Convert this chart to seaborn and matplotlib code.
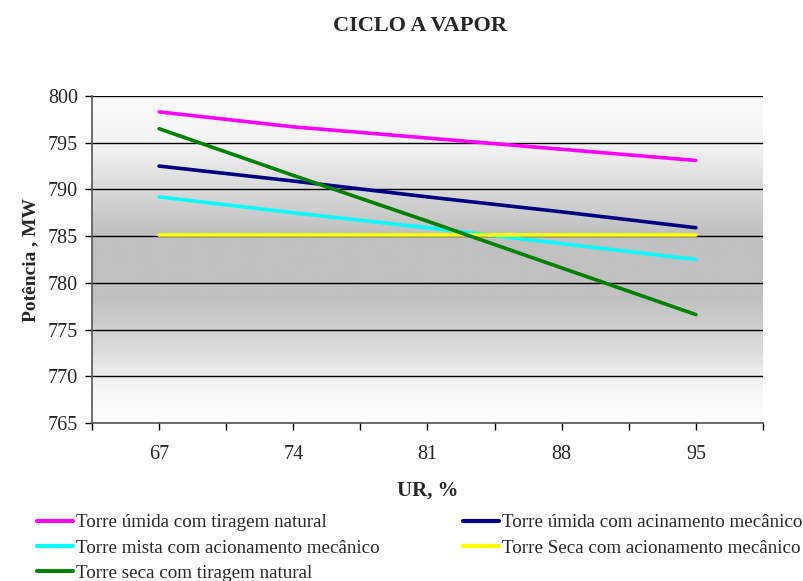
import numpy as np
import pandas as pd
import matplotlib
matplotlib.use("Agg")
import matplotlib.pyplot as plt
import seaborn as sns
from matplotlib.colors import LinearSegmentedColormap
from matplotlib.lines import Line2D

# Relative humidity categories (%)
ur = [67, 74, 81, 88, 95]

# Net power output (MW) for each cooling tower arrangement
umida_tiragem = [798.3, 796.7, 795.5, 794.3, 793.1]
umida_mecanico = [792.5, 790.9, 789.2, 787.6, 785.9]
mista_mecanico = [789.2, 787.5, 785.9, 784.2, 782.5]
seca_mecanico = [785.1, 785.1, 785.1, 785.1, 785.1]
seca_tiragem = [796.5, 791.5, 786.6, 781.6, 776.6]

series_names = [
    "Torre úmida com tiragem natural",
    "Torre úmida com acinamento mecânico",
    "Torre mista com acionamento mecânico",
    "Torre Seca com acionamento mecânico",
    "Torre seca com tiragem natural",
]
series_values = [umida_tiragem, umida_mecanico, mista_mecanico, seca_mecanico, seca_tiragem]
series_colors = ["#ff00ff", "#000080", "#00ffff", "#ffff00", "#008000"]

y_ticks = [765, 770, 775, 780, 785, 790, 795, 800]

df = pd.DataFrame(
    [(name, x, v) for name, vals in zip(series_names, series_values) for x, v in zip(ur, vals)],
    columns=["serie", "UR", "Potencia"],
)

sns.set_theme(style="white")
plt.rcParams["font.family"] = ["Liberation Serif", "DejaVu Serif"]

fig = plt.figure(figsize=(8.04, 5.81), dpi=100)
ax = fig.add_axes([92 / 804, 1 - 423 / 581, (763 - 92) / 804, (423 - 96) / 581])

step = ur[1] - ur[0]
xmin, xmax = ur[0] - step / 2, ur[-1] + step / 2
ymin, ymax = y_ticks[0], y_ticks[-1]

# Vertical white-grey-white background fill of the plot area
grad_cmap = LinearSegmentedColormap.from_list(
    "fill",
    [(0.0, "#fcfcfc"), (0.14, "#f4f4f4"), (0.30, "#d6d6d6"), (0.42, "#c0c0c0"),
     (0.62, "#c0c0c0"), (0.78, "#dcdcdc"), (0.90, "#f7f7f7"), (1.0, "#fdfdfd")],
)
grad = np.linspace(0, 1, 400).reshape(-1, 1)
ax.imshow(grad, cmap=grad_cmap, aspect="auto", extent=[xmin, xmax, ymin, ymax],
          origin="upper", zorder=0, interpolation="bilinear")

for yv in y_ticks:
    ax.axhline(yv, color="black", lw=1.0, zorder=1)

sns.lineplot(data=df, x="UR", y="Potencia", hue="serie", hue_order=series_names,
             palette=series_colors, linewidth=2.6, ax=ax, legend=False, zorder=3)
for ln in ax.get_lines():
    ln.set_solid_capstyle("round")

ax.set_xlim(xmin, xmax)
ax.set_ylim(ymin, ymax)
ax.set_xticks(ur)
ax.set_xticklabels([str(v) for v in ur])
ax.set_xticks([xmin + i * step for i in range(len(ur) + 1)], minor=True)
ax.set_yticks(y_ticks)
ax.tick_params(axis="both", which="both", direction="out", length=5, width=1,
               color="black", labelsize=14.5, bottom=True, left=True)
ax.tick_params(axis="x", pad=11)
ax.tick_params(axis="y", pad=5)

for side in ["top", "right"]:
    ax.spines[side].set_visible(False)
for side in ["left", "bottom"]:
    ax.spines[side].set_color("#555555")
    ax.spines[side].set_linewidth(1.2)

ax.set_xlabel("UR, %", fontsize=15, fontweight="bold", labelpad=12)
ax.set_ylabel("Potência , MW", fontsize=14, fontweight="bold", labelpad=6)
fig.suptitle("CICLO A VAPOR", x=420 / 804, y=1 - 26 / 581, va="center",
             fontsize=16, fontweight="bold")

handles = [Line2D([0], [0], color=c, lw=3) for c in series_colors]
left_idx = [0, 2, 4]
right_idx = [1, 3]
common = dict(frameon=False, fontsize=13.7, handlelength=1.9, handletextpad=0.15,
              labelspacing=0.42, borderaxespad=0, borderpad=0, loc="upper left")
leg1 = fig.legend([handles[i] for i in left_idx], [series_names[i] for i in left_idx],
                  bbox_to_anchor=(37 / 804, 1 - 514 / 581), **common)
leg2 = fig.legend([handles[i] for i in right_idx], [series_names[i] for i in right_idx],
                  bbox_to_anchor=(463 / 804, 1 - 514 / 581), **common)

fig.savefig("out.png", dpi=100)
